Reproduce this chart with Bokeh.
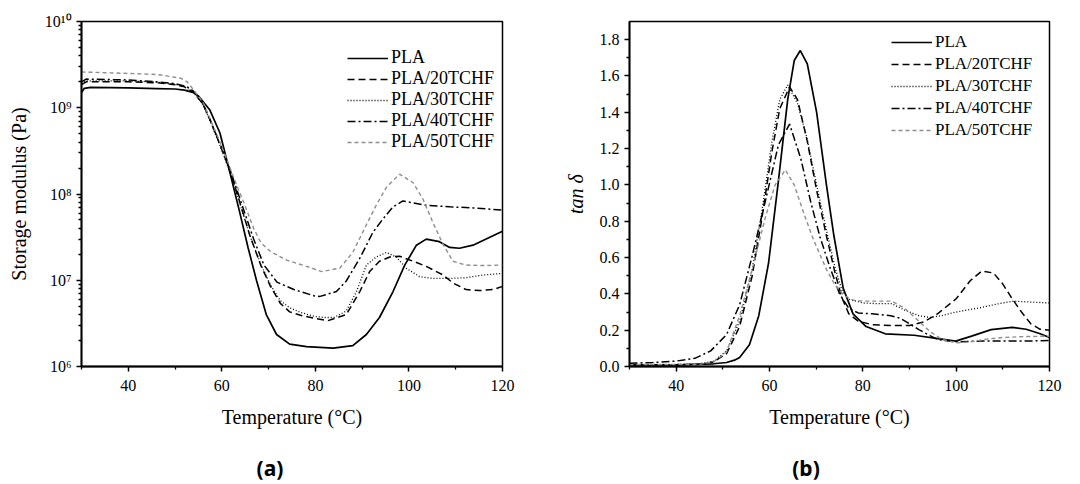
from bokeh.plotting import figure
from bokeh.models import (FixedTicker, CustomJSTickFormatter, PrintfTickFormatter, Range1d, Div)
from bokeh.layouts import row, column
from bokeh.embed import file_html
from bokeh.resources import INLINE

# ---------------- data: (a) storage modulus ----------------
series_names = ["PLA", "PLA/20TCHF", "PLA/30TCHF", "PLA/40TCHF", "PLA/50TCHF"]

pla_T = [30, 30.6, 32, 40, 46, 50, 52, 54, 55.1, 57.4, 59.6, 61.7, 63.8, 65.6, 67.4, 69.5, 71.7, 74.5, 78.1,
         83.8, 88, 90.9, 93.7, 96.6, 99.1, 101.6, 103.7, 106.5, 108.7, 110.8, 113.7, 116.5, 120]
pla_E = [1.5e9, 1.68e9, 1.72e9, 1.70e9, 1.67e9, 1.65e9, 1.6e9, 1.5e9, 1.35e9, 9.5e8, 5.1e8, 1.8e8, 6.2e7, 2.4e7,
         1.0e7, 4.0e6, 2.35e6, 1.82e6, 1.7e6, 1.63e6, 1.75e6, 2.35e6, 3.7e6, 7.4e6, 1.5e7, 2.55e7, 3.0e7, 2.8e7,
         2.4e7, 2.35e7, 2.55e7, 3.0e7, 3.7e7]

p20_T = [30, 31, 40, 46, 50, 52, 54, 56, 57.6, 60, 62, 64, 66, 68.3, 70.4, 72.5, 74.5, 77, 80, 82.7, 86.6,
         89.5, 91.6, 93.7, 95.9, 98, 100.9, 103.7, 107.3, 109.4, 112.2, 115.1, 118, 120]
p20_E = [1.85e9, 2.0e9, 2.0e9, 1.95e9, 1.85e9, 1.75e9, 1.5e9, 1.1e9, 7.0e8, 3.3e8, 1.7e8, 7.5e7, 3.3e7, 1.5e7,
         8.5e6, 5.4e6, 4.3e6, 3.9e6, 3.6e6, 3.4e6, 4.0e6, 7.4e6, 1.26e7, 1.66e7, 1.86e7, 1.9e7, 1.66e7, 1.45e7,
         1.15e7, 9.3e6, 7.8e6, 7.6e6, 7.8e6, 8.5e6]

p30_T = [30, 31, 40, 46, 50, 52, 54, 56, 57.6, 60, 62, 64, 66, 68.3, 70.4, 72.5, 74.5, 77, 80, 82, 84, 86.6,
         88.8, 90.9, 93, 95.2, 97.3, 99.4, 102.3, 105.1, 108.7, 112.2, 115.8, 120]
p30_E = [1.9e9, 2.05e9, 2.05e9, 1.98e9, 1.88e9, 1.75e9, 1.5e9, 1.08e9, 6.8e8, 3.2e8, 1.65e8, 7.3e7, 3.3e7,
         1.55e7, 8.8e6, 5.8e6, 4.8e6, 4.2e6, 3.8e6, 3.7e6, 3.7e6, 4.4e6, 7.4e6, 1.5e7, 1.86e7, 2.1e7, 1.86e7,
         1.38e7, 1.1e7, 1.05e7, 1.05e7, 1.07e7, 1.15e7, 1.2e7]

p40_T = [30, 31, 40, 46, 50, 52.6, 54, 56, 57.6, 60, 62, 64.7, 66.8, 69, 71.8, 75.4, 79.7, 81, 84.5, 86.6,
         89.5, 92.3, 94.4, 96.6, 98.7, 100.9, 103.7, 108.7, 113.7, 120]
p40_E = [2.0e9, 2.15e9, 2.1e9, 2.0e9, 1.9e9, 1.75e9, 1.55e9, 1.1e9, 7.0e8, 3.4e8, 1.75e8, 6.5e7, 3.0e7, 1.5e7,
         9.5e6, 7.8e6, 6.6e6, 6.5e6, 7.4e6, 9.8e6, 1.8e7, 3.6e7, 5.1e7, 7.1e7, 8.3e7, 7.9e7, 7.4e7, 7.1e7,
         6.9e7, 6.5e7]

p50_T = [30, 35, 40, 44.7, 47, 51.2, 52.6, 54, 56, 57.6, 59, 61.1, 63.2, 64.7, 66.8, 68.3, 70.4, 74, 79,
         81.3, 85.2, 88, 90.9, 93, 95.2, 98, 100.9, 103, 105.1, 107.3, 109.4, 112.2, 115.8, 120]
p50_E = [2.6e9, 2.55e9, 2.5e9, 2.45e9, 2.4e9, 2.2e9, 2.0e9, 1.6e9, 1.15e9, 7.2e8, 4.8e8, 2.5e8, 1.25e8, 8.0e7,
         4.0e7, 2.75e7, 2.15e7, 1.7e7, 1.4e7, 1.26e7, 1.38e7, 2.1e7, 4.4e7, 7.4e7, 1.2e8, 1.7e8, 1.35e8, 8.7e7,
         4.7e7, 2.6e7, 1.66e7, 1.5e7, 1.48e7, 1.5e7]

# ---------------- data: (b) tan delta ----------------
tpla_T = [30, 35, 40, 44, 48, 50.8, 52.5, 53.6, 55.7, 57.7, 59.8, 61.9, 63.9, 65.3, 66.6, 68.1, 70.1, 72.2,
          73.8, 75.8, 77.9, 80.7, 84.8, 91, 96.5, 99.9, 103.3, 107.5, 112, 115, 118, 120]
tpla_v = [0.005, 0.005, 0.008, 0.012, 0.015, 0.022, 0.035, 0.05, 0.12, 0.28, 0.57, 1.02, 1.47, 1.685, 1.74,
          1.667, 1.40, 1.00, 0.72, 0.43, 0.29, 0.22, 0.18, 0.172, 0.152, 0.14, 0.167, 0.203, 0.215, 0.205,
          0.18, 0.16]

t20_T = [30, 40, 45, 48, 50.8, 53.6, 56.3, 58.4, 60.5, 62.2, 64.3, 66, 68.1, 70.1, 72.2, 74, 75.5, 77, 79,
         82, 86, 90, 93, 96, 100, 103, 105.5, 108, 110, 112, 114, 116, 118, 120]
t20_v = [0.01, 0.01, 0.012, 0.025, 0.07, 0.22, 0.50, 0.82, 1.18, 1.42, 1.54, 1.47, 1.24, 0.97, 0.72, 0.52,
         0.38, 0.29, 0.25, 0.23, 0.226, 0.226, 0.245, 0.29, 0.373, 0.472, 0.526, 0.515, 0.454, 0.373, 0.30,
         0.235, 0.205, 0.2]

t30_T = [30, 40, 45, 48.1, 50.8, 53.6, 56.3, 58.4, 60.5, 62.2, 63.9, 66, 68.1, 70.1, 72.2, 74, 75.5, 77,
         80, 83, 86.2, 89, 92, 94.4, 97, 100, 105, 109, 112.3, 116, 120]
t30_v = [0.012, 0.012, 0.015, 0.03, 0.086, 0.25, 0.535, 0.86, 1.235, 1.47, 1.55, 1.45, 1.25, 1.00, 0.75,
         0.55, 0.42, 0.37, 0.35, 0.346, 0.346, 0.31, 0.28, 0.27, 0.28, 0.30, 0.323, 0.345, 0.36, 0.355, 0.35]

t40_T = [30, 35, 40, 44, 47.4, 50.8, 53.6, 56.3, 59.1, 61.9, 64.3, 66.7, 68.8, 70.8, 72.9, 75, 77, 79, 82,
         86, 88, 90, 92, 94.4, 96, 98.5, 100, 105, 110, 115, 120]
t40_v = [0.018, 0.022, 0.03, 0.045, 0.086, 0.176, 0.34, 0.61, 0.91, 1.22, 1.335, 1.146, 0.91, 0.715, 0.55,
         0.40, 0.32, 0.295, 0.29, 0.28, 0.266, 0.235, 0.203, 0.17, 0.149, 0.14, 0.136, 0.14, 0.14, 0.14, 0.143]

t50_T = [30, 40, 45, 48, 50.8, 53.6, 56.3, 59.1, 61.2, 63.4, 65.3, 67.4, 69.4, 72.2, 74, 76, 78, 80, 84,
         86.2, 89, 92, 94.5, 97, 100, 103, 106, 110, 115, 120]
t50_v = [0.01, 0.01, 0.012, 0.025, 0.08, 0.28, 0.535, 0.82, 1.0, 1.083, 1.0, 0.84, 0.70, 0.535, 0.45, 0.39,
         0.365, 0.36, 0.36, 0.36, 0.32, 0.25, 0.19, 0.149, 0.131, 0.135, 0.149, 0.16, 0.165, 0.167]

x_major = [40, 60, 80, 100, 120]
x_minor = [30, 50, 70, 90, 110]
e_major = [1e6, 1e7, 1e8, 1e9, 1e10]
tan_major = [0.0, 0.2, 0.4, 0.6, 0.8, 1.0, 1.2, 1.4, 1.6, 1.8]
tan_minor = [0.1, 0.3, 0.5, 0.7, 0.9, 1.1, 1.3, 1.5, 1.7]

SERIF = "Liberation Serif"
styles = [
    dict(line_color="black", line_width=1.7, line_dash="solid"),
    dict(line_color="black", line_width=1.5, line_dash="7 4"),
    dict(line_color="black", line_width=1.3, line_dash="1 2"),
    dict(line_color="black", line_width=1.5, line_dash="8 3 2 3"),
    dict(line_color="#8e8e8e", line_width=1.4, line_dash="4 3"),
]


def style_axes(p):
    p.grid.visible = False
    p.outline_line_color = "black"
    p.outline_line_width = 1.5
    for ax in (p.xaxis[0], p.yaxis[0]):
        ax.axis_line_width = 1.8
        ax.major_tick_line_width = 1.5
        ax.minor_tick_line_width = 1.3
        ax.major_tick_in = 0
        ax.major_tick_out = 5
        ax.minor_tick_in = 0
        ax.minor_tick_out = 3
        ax.major_label_text_font = SERIF
        ax.major_label_text_font_size = "16px"
        ax.major_label_text_color = "black"
        ax.axis_label_text_font = SERIF
        ax.axis_label_text_font_size = "20px"
        ax.axis_label_text_font_style = "normal"
        ax.axis_label_text_color = "black"
    p.xaxis.ticker = FixedTicker(ticks=x_major, minor_ticks=x_minor)
    p.xaxis.axis_label = "Temperature (°C)"
    p.xaxis.major_label_standoff = 8
    p.xaxis.axis_label_standoff = 12


def style_legend(p, loc, lh, fs):
    lg = p.legend[0]
    lg.location = loc
    lg.border_line_color = None
    lg.background_fill_alpha = 0
    lg.padding = 0
    lg.margin = 0
    lg.spacing = 0
    lg.glyph_width = 41
    lg.glyph_height = lh
    lg.label_height = lh
    lg.label_standoff = 3
    lg.label_text_font = SERIF
    lg.label_text_font_size = fs
    lg.label_text_color = "black"


# ---------------- figure (a) ----------------
pa = figure(width=540, height=444, y_axis_type="log", output_backend="svg", toolbar_location=None,
            x_range=Range1d(30, 120), y_range=Range1d(1e6, 1e10),
            min_border_left=81, min_border_right=38, min_border_top=21, min_border_bottom=75)
style_axes(pa)
e_minor = [k * 10 ** n for n in range(6, 10) for k in range(2, 10)]
pa.yaxis.ticker = FixedTicker(ticks=e_major, minor_ticks=e_minor)
pa.yaxis.formatter = CustomJSTickFormatter(code="""
const sup = {"0":"\u2070","1":"\u00b9","2":"\u00b2","3":"\u00b3","4":"\u2074","5":"\u2075","6":"\u2076","7":"\u2077","8":"\u2078","9":"\u2079"};
const e = Math.round(Math.log10(tick));
return "10" + String(e).split("").map(c => sup[c]).join("");
""")
pa.yaxis.axis_label = "Storage modulus (Pa)"
pa.yaxis.axis_label_standoff = 12

for name, xs, ys, st in zip(series_names, [pla_T, p20_T, p30_T, p40_T, p50_T],
                            [pla_E, p20_E, p30_E, p40_E, p50_E], styles):
    pa.line(xs, ys, legend_label=name, **st)
style_legend(pa, (266, 214), 20, "18px")

# ---------------- figure (b) ----------------
pb = figure(width=540, height=444, output_backend="svg", toolbar_location=None,
            x_range=Range1d(30, 120), y_range=Range1d(0, 1.9),
            min_border_left=89, min_border_right=31, min_border_top=14, min_border_bottom=78)
style_axes(pb)
pb.yaxis.ticker = FixedTicker(ticks=tan_major, minor_ticks=tan_minor)
pb.yaxis.formatter = PrintfTickFormatter(format="%.1f")
pb.yaxis.axis_label = "tan δ"
pb.yaxis.axis_label_text_font_style = "italic"
pb.yaxis.axis_label_standoff = 10

for name, xs, ys, st in zip(series_names, [tpla_T, t20_T, t30_T, t40_T, t50_T],
                            [tpla_v, t20_v, t30_v, t40_v, t50_v], styles):
    pb.line(xs, ys, legend_label=name, **st)
style_legend(pb, (262, 225), 22, "17px")

# ---------------- captions ----------------
cap_style = "text-align:center;font-family:'Noto Sans';font-weight:bold;font-size:21px;line-height:26px;"
da = Div(text=f'<div style="{cap_style}padding-top:11px;width:540px;">(a)</div>',
         width=540, height=40, margin=0)
db = Div(text=f'<div style="{cap_style}padding-top:11px;width:532px;">(b)</div>',
         width=540, height=40, margin=0)

layout = column(row(pa, pb), row(da, db))
open("out.html", "w").write(file_html(layout, INLINE))
